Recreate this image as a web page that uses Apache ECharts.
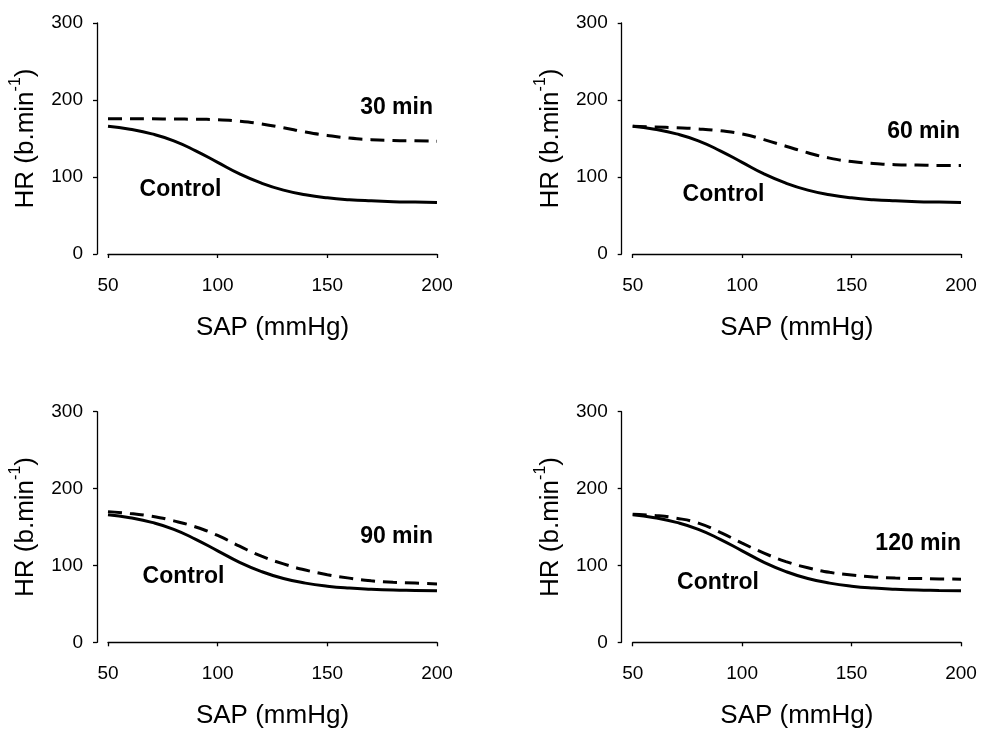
<!DOCTYPE html>
<html>
<head>
<meta charset="utf-8">
<script src="https://cdn.jsdelivr.net/npm/echarts@6/dist/echarts.min.js"></script>
<style>html,body{margin:0;padding:0;background:#fff}#c{width:1000px;height:735px}</style>
</head>
<body>
<div id="c"></div>
<script>
var sap = [50, 60, 70, 80, 90, 100, 110, 120, 130, 140, 150, 160, 170, 180, 190, 200];
var control = [166, 162, 156, 147, 134, 119, 104, 92, 83, 77, 73, 70.5, 69, 68, 67.5, 67];
var min30 = [175.5, 175.5, 175.5, 175.3, 175, 174.5, 172.5, 169, 164, 158.5, 154, 150.5, 148.5, 147.5, 147, 146.5];
var min60 = [166, 165, 164, 162.5, 160, 156, 148.5, 140, 131.5, 124.5, 120, 117.5, 116, 115.5, 115, 115];
var min90 = [170, 167.5, 164, 158, 150, 139, 125, 112, 102, 94, 88, 83.5, 80, 78, 77, 76];
var min120 = [166.5, 165, 161.5, 155, 143, 129, 116, 105, 97, 91, 87.5, 85, 83.5, 83, 82.5, 82];
var panelLabels = ['30 min', '60 min', '90 min', '120 min'];
var xTicks = [50, 100, 150, 200];
var yTicks = [0, 100, 200, 300];

var FONT = 'Liberation Sans, Arial, sans-serif';
var treat = [min30, min60, min90, min120];
var grids = [
  {left: 108, top: 23, width: 329, height: 231},
  {left: 632.7, top: 23, width: 328.3, height: 231},
  {left: 108, top: 411.7, width: 329, height: 230.6},
  {left: 632.7, top: 411.7, width: 328.3, height: 230.6}
];
function pairs(ys) { return sap.map(function (x, i) { return [x, ys[i]]; }); }

var xAxes = [], yAxes = [], series = [];
for (var i = 0; i < 4; i++) {
  xAxes.push({
    gridIndex: i, type: 'value', min: xTicks[0], max: xTicks[xTicks.length - 1], interval: 50,
    offset: 8,
    name: 'SAP (mmHg)', nameLocation: 'middle', nameGap: 53,
    nameTextStyle: {fontFamily: FONT, fontSize: 26, color: '#000'},
    axisLine: {show: true, lineStyle: {color: '#000', width: 1.3}},
    axisTick: {show: true, length: 4, inside: false, lineStyle: {color: '#000', width: 1.3}},
    axisLabel: {fontFamily: FONT, fontSize: 19, color: '#000', margin: 14},
    splitLine: {show: false}
  });
  yAxes.push({
    gridIndex: i, type: 'value', min: yTicks[0], max: yTicks[yTicks.length - 1], interval: 100,
    offset: 11,
    name: '{n|HR (b.min}{s|-1}{n|)}', nameLocation: 'middle', nameGap: 58, nameRotate: 90,
    nameTextStyle: {
      fontFamily: FONT, color: '#000',
      rich: {
        n: {fontFamily: FONT, fontSize: 26, color: '#000', lineHeight: 31, verticalAlign: 'bottom'},
        s: {fontFamily: FONT, fontSize: 16, color: '#000', lineHeight: 31, verticalAlign: 'top'}
      }
    },
    axisLine: {show: true, lineStyle: {color: '#000', width: 1.3}},
    axisTick: {show: true, length: 4, inside: false, lineStyle: {color: '#000', width: 1.3}},
    axisLabel: {fontFamily: FONT, fontSize: 19, color: '#000', margin: 14},
    splitLine: {show: false}
  });
  series.push({
    type: 'line', xAxisIndex: i, yAxisIndex: i, data: pairs(control), smooth: true,
    showSymbol: false, symbol: 'none', silent: true,
    lineStyle: {color: '#000', width: 3, type: 'solid'}
  });
  series.push({
    type: 'line', xAxisIndex: i, yAxisIndex: i, data: pairs(treat[i]), smooth: true,
    showSymbol: false, symbol: 'none', silent: true,
    lineStyle: {color: '#000', width: 3, type: [14, 8]}
  });
}

function txt(str, x, y, align) {
  return {
    type: 'text', x: x, y: y, silent: true,
    style: {text: str, fontFamily: FONT, fontSize: 23, fontWeight: 'bold', fill: '#000',
            align: align, verticalAlign: 'middle'}
  };
}
var graphics = [
  txt(panelLabels[0], 433, 108, 'right'),
  txt('Control', 180.5, 190, 'center'),
  txt(panelLabels[1], 960, 132, 'right'),
  txt('Control', 723.5, 195, 'center'),
  txt(panelLabels[2], 433, 537, 'right'),
  txt('Control', 183.5, 577, 'center'),
  txt(panelLabels[3], 961, 544, 'right'),
  txt('Control', 718, 583, 'center')
];

var chart = echarts.init(document.getElementById('c'), null, {renderer: 'canvas'});
chart.setOption({
  animation: false,
  backgroundColor: '#fff',
  grid: grids,
  xAxis: xAxes,
  yAxis: yAxes,
  series: series,
  graphic: graphics
});
</script>
</body>
</html>
